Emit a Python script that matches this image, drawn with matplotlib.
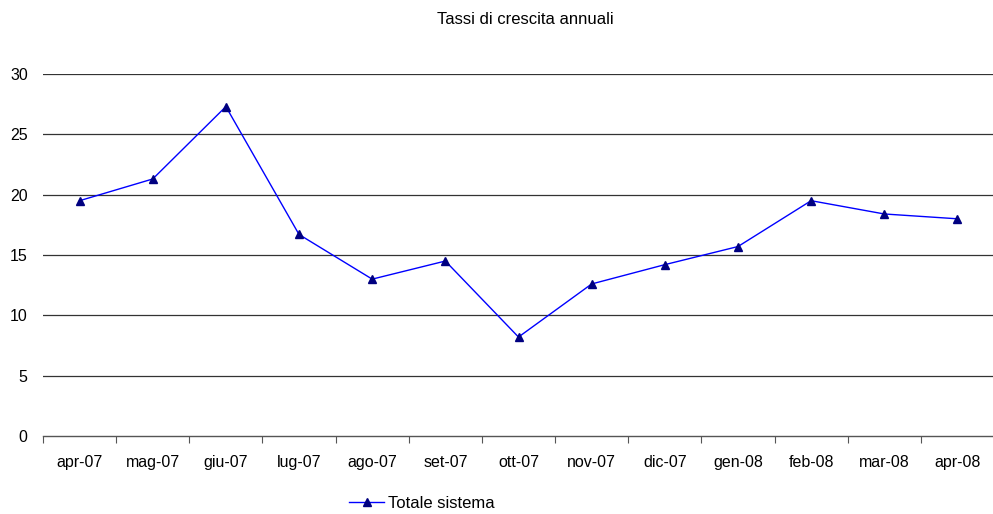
import matplotlib
matplotlib.use("Agg")
import matplotlib.pyplot as plt
import numpy as np

# data
months = ["apr-07", "mag-07", "giu-07", "lug-07", "ago-07", "set-07", "ott-07",
          "nov-07", "dic-07", "gen-08", "feb-08", "mar-08", "apr-08"]
totale = [19.5, 21.3, 27.3, 16.7, 13.0, 14.5, 8.2, 12.6, 14.2, 15.7, 19.5, 18.4, 18.0]
yticks = [0, 5, 10, 15, 20, 25, 30]

plt.rcParams['font.family'] = ['Liberation Sans', 'DejaVu Sans']

W, H = 993, 514
fig = plt.figure(figsize=(W / 100, H / 100), dpi=100)
ax = fig.add_axes([43 / W, 1 - 436 / H, 951 / W, 362 / H])

x = np.arange(len(months))
line, = ax.plot(x, totale, color="#0000FF", lw=1.0, marker="^", markersize=6,
                markerfacecolor="#000080", markeredgecolor="#000080",
                label="Totale sistema")

ax.set_xlim(-0.5, len(months) - 0.5)
ax.set_ylim(0, 30)
ax.set_yticks(yticks)
ax.set_yticklabels([str(v) for v in yticks], fontsize=11.5)
ax.tick_params(axis="y", length=0, pad=11)

# category labels between ticks at boundaries
ax.set_xticks(np.arange(-0.5, len(months), 1.0))
ax.set_xticklabels([])
ax.set_xticks(x, minor=True)
ax.set_xticklabels(months, minor=True, fontsize=11.5)
ax.tick_params(axis="x", which="major", length=5, color="#555555", direction="out")
ax.tick_params(axis="x", which="minor", length=0, pad=14)

for v in yticks[1:]:
    ax.axhline(v, color="#333333", lw=0.9, zorder=0)

for s in ["top", "right", "left"]:
    ax.spines[s].set_visible(False)
ax.spines["bottom"].set_color("#555555")
ax.spines["bottom"].set_linewidth(1.0)

fig.text(525 / W, 1 - 19 / H, "Tassi di crescita annuali", ha="center", va="center",
         fontsize=12)

fig.legend(handles=[line], loc="center left", bbox_to_anchor=(349 / W, 1 - 503 / H),
           frameon=False, fontsize=12, handlelength=2.1, handletextpad=0.25,
           borderpad=0, borderaxespad=0)

fig.savefig("out.png", dpi=100)
